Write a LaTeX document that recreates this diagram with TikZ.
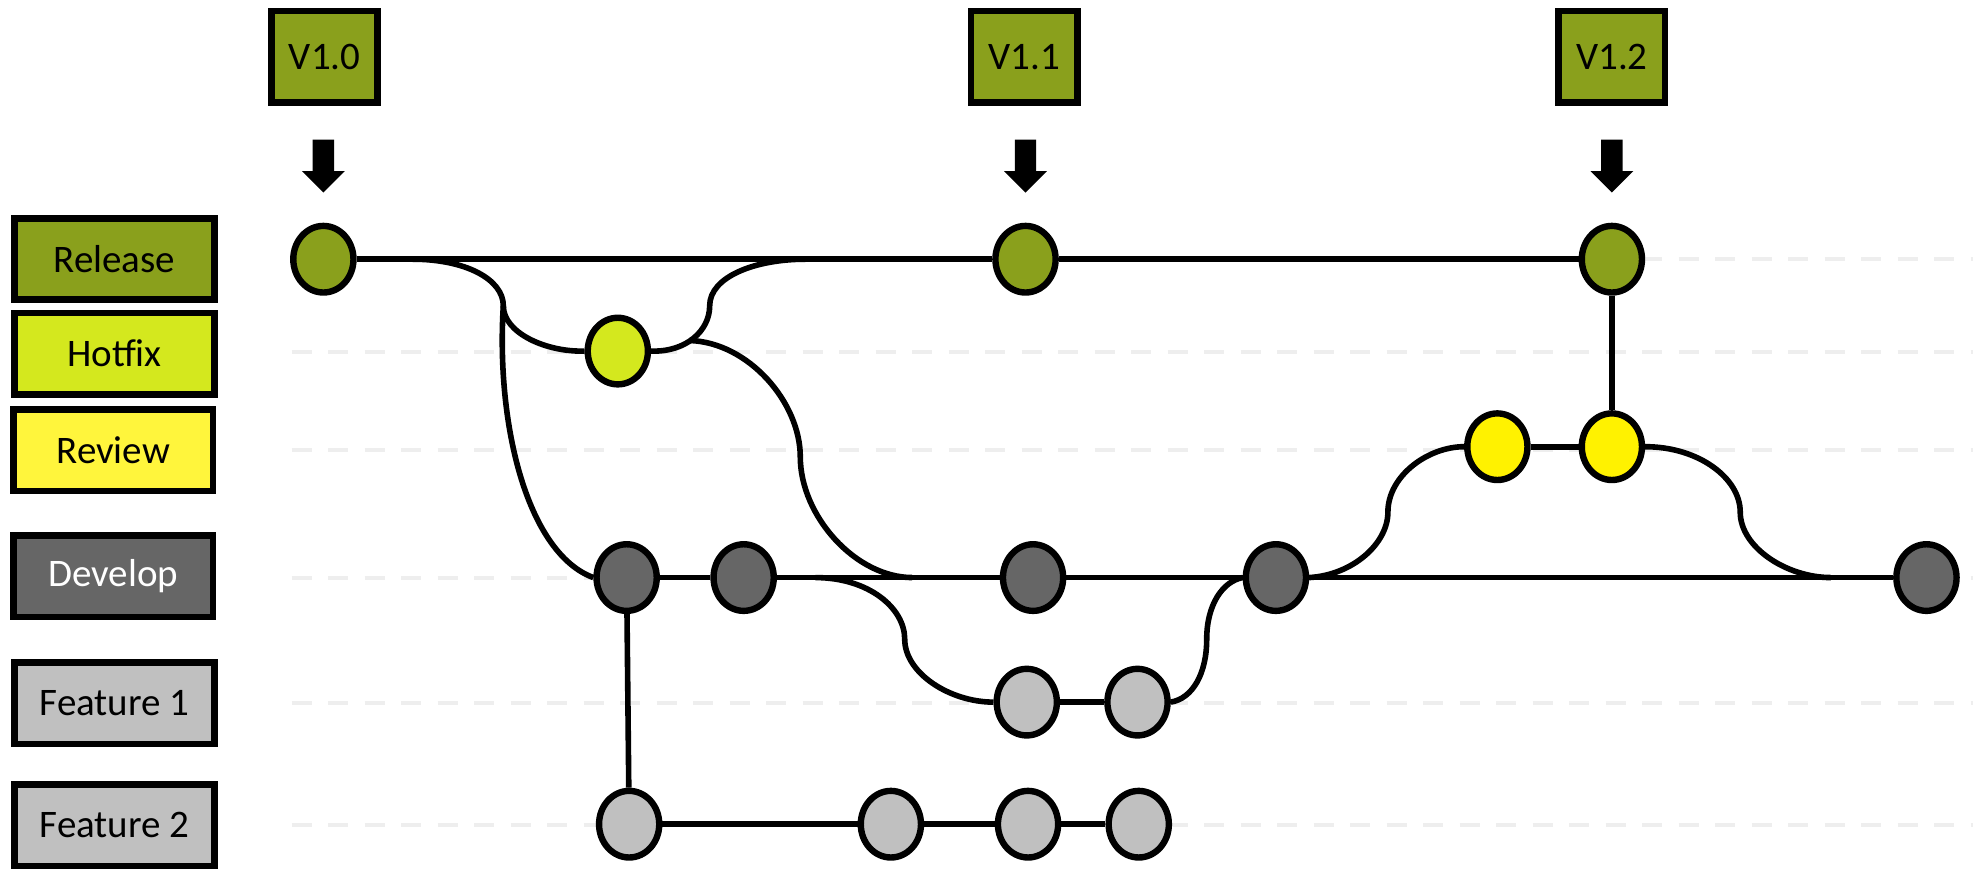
\documentclass[tikz,border=0pt]{standalone}
\usepackage{fontspec}
\setmainfont{Carlito}
\usetikzlibrary{shapes.geometric}
\definecolor{relgreen}{RGB}{138,160,28}
\definecolor{hotgreen}{RGB}{212,232,30}
\definecolor{revbox}{RGB}{255,245,60}
\definecolor{revnode}{RGB}{255,242,0}
\definecolor{devgray}{RGB}{102,102,102}
\definecolor{featgray}{RGB}{192,192,192}
\definecolor{dashgray}{RGB}{238,238,238}
\pgfdeclarelayer{guides}
\pgfdeclarelayer{links}
\pgfsetlayers{guides,links,main}
\begin{document}
\begin{tikzpicture}[x=0.62915pt,y=-0.62915pt,
  conn/.style={line width=2.8pt},
  commit/.style={ellipse,draw,line width=3.2pt,minimum width=30.1pt,minimum height=33.3pt,inner sep=0pt},
  lane/.style={rectangle,draw,line width=3.4pt,minimum width=99.8pt,minimum height=40.6pt,inner sep=0pt,font=\fontsize{19.5}{23}\selectfont},
  tagbox/.style={rectangle,draw,line width=3.4pt,fill=relgreen,minimum width=53.2pt,minimum height=45.6pt,inner sep=0pt,font=\fontsize{19.5}{23}\selectfont},
  guide/.style={draw=dashgray,line width=2pt,dash pattern=on 10pt off 8.25pt},
  tagarrow/.pic={\fill[black] (-8.5,111) -- (8.5,111) -- (8.5,136) -- (17,136) -- (0,153) -- (-17,136) -- (-8.5,136) -- cycle;}
]
\useasboundingbox (0,0) rectangle (1568,691);
\begin{pgfonlayer}{guides}
  \fill[white] (0,0) rectangle (1568,691);
  \foreach \yy in {206,280,358,459,559,656}
    \draw[guide] (232,\yy) -- (1568,\yy);
\end{pgfonlayer}

% lane labels
\node[lane,fill=relgreen] (lrel) at (91,206) {Release};
\node[lane,fill=hotgreen] (lhot) at (91,281) {Hotfix};
\node[lane,fill=revbox] (lrev) at (90,358) {Review};
\node[lane,fill=devgray,text=white] (ldev) at (90,458) {Develop};
\node[lane,fill=featgray] (lf1) at (91,559) {Feature 1};
\node[lane,fill=featgray] (lf2) at (91,656) {Feature 2};

% version tags
\node[tagbox] (t0) at (258,45) {V1.0};
\node[tagbox] (t1) at (814,45) {V1.1};
\node[tagbox] (t2) at (1281,45) {V1.2};
\pic at (257,0) {tagarrow};
\pic at (815,0) {tagarrow};
\pic at (1281,0) {tagarrow};

% commits
\node[commit,fill=relgreen] (r0) at (257,206) {};
\node[commit,fill=relgreen] (r1) at (815,206) {};
\node[commit,fill=relgreen] (r2) at (1281,206) {};
\node[commit,fill=hotgreen] (h0) at (491,279) {};
\node[commit,fill=revnode] (v1) at (1190,355) {};
\node[commit,fill=revnode] (v2) at (1281,355) {};
\node[commit,fill=devgray] (d1) at (498,459) {};
\node[commit,fill=devgray] (d2) at (591,459) {};
\node[commit,fill=devgray] (d3) at (821,459) {};
\node[commit,fill=devgray] (d4) at (1014,459) {};
\node[commit,fill=devgray] (d5) at (1531,459) {};
\node[commit,fill=featgray] (f1) at (816,558) {};
\node[commit,fill=featgray] (f2) at (904,558) {};
\node[commit,fill=featgray] (g1) at (500,655) {};
\node[commit,fill=featgray] (g2) at (708,655) {};
\node[commit,fill=featgray] (g3) at (817,655) {};
\node[commit,fill=featgray] (g4) at (905,655) {};

% branch points
\coordinate (b1) at (328,206);
\coordinate (b1m) at (400,243);
\coordinate (m1) at (640,206);
\coordinate (b2) at (548,270.6);
\coordinate (m2) at (725,459);
\coordinate (b3) at (648,459);
\coordinate (m3) at (1455,459);

\begin{pgfonlayer}{links}
  \draw[conn] (r0) -- (r1);
  \draw[conn] (r1) -- (r2);
  \draw[conn] (r2) -- (v2);
  \draw[conn] (v1) -- (v2);
  \draw[conn] (d1) -- (d2);
  \draw[conn] (d2) -- (d3);
  \draw[conn] (d3) -- (d4);
  \draw[conn] (d4) -- (d5);
  \draw[conn] (f1) -- (f2);
  \draw[conn] (d1) -- (g1);
  \draw[conn] (g1) -- (g2);
  \draw[conn] (g2) -- (g3);
  \draw[conn] (g3) -- (g4);
  % release -> hotfix
  \draw[conn] (b1) .. controls (370,206) and (400,222) .. (b1m)
                   .. controls (400,265) and (435,280) .. (h0.west);
  % release -> develop
  \draw[conn] (b1m) .. controls (394,340) and (420,440) .. (d1.west);
  % hotfix -> release
  \draw[conn] (h0.east) .. controls (545,280) and (564,263) .. (564,243)
                        .. controls (564,220) and (600,206) .. (m1);
  % hotfix -> develop
  \draw[conn] (b2) .. controls (595,272) and (636,320) .. (636,363)
                   .. controls (636,410) and (680,459) .. (m2);
  % develop -> feature 1
  \draw[conn] (b3) .. controls (690,459) and (719,483) .. (719,508)
                   .. controls (719,535) and (755,558) .. (f1.west);
  % feature 1 -> develop
  \draw[conn] (f2.east) .. controls (948,555) and (959,535) .. (959,508)
                        .. controls (959,480) and (972,462) .. (d4.west);
  % develop -> review
  \draw[conn] (d4.east) .. controls (1075,457) and (1103,432) .. (1103,407)
                        .. controls (1103,378) and (1135,355) .. (v1.west);
  % review -> develop
  \draw[conn] (v2.east) .. controls (1350,355) and (1383,380) .. (1383,407)
                        .. controls (1383,435) and (1420,459) .. (m3);
\end{pgfonlayer}
\end{tikzpicture}
\end{document}
